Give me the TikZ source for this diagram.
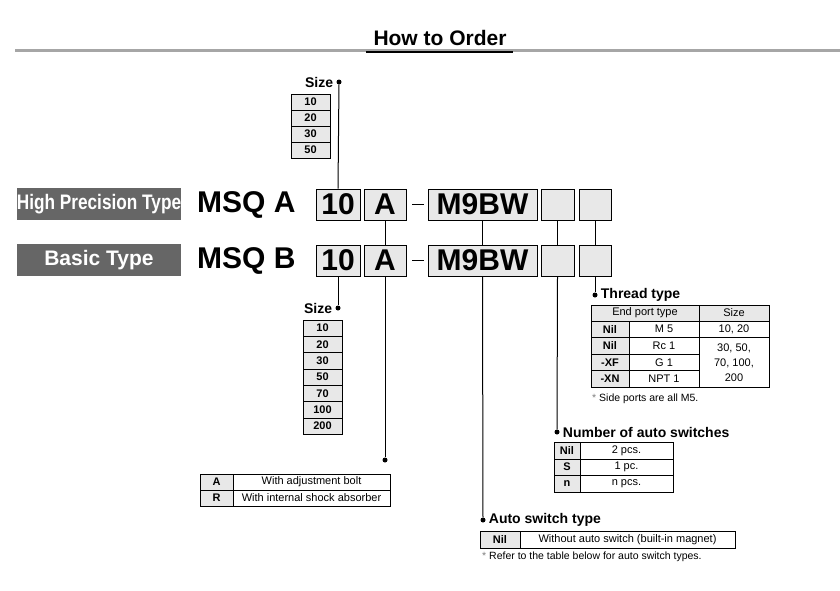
\documentclass[tikz,border=0pt]{standalone}
\usepackage{fontspec}
\usepackage{graphicx}
\setmainfont{Liberation Sans}
\usetikzlibrary{positioning}
\definecolor{labelGray}{HTML}{666666}
\definecolor{boxGray}{HTML}{E8E8E8}
\begin{document}
\begin{tikzpicture}[
    x=1pt, y=-1pt,
    typeLabel/.style={fill=labelGray, text=white, font=\bfseries\fontsize{21}{21}\selectfont,
        minimum width=164pt, minimum height=32pt, inner sep=0pt},
    codeBox/.style={draw=black, thick, fill=boxGray, minimum height=31pt, inner sep=0pt,
        font=\bfseries\fontsize{30}{30}\selectfont},
    cell/.style={draw=black, fill=white, inner sep=0pt, font=\fontsize{11}{11}\selectfont},
    grayCell/.style={cell, fill=boxGray, font=\bfseries\fontsize{11}{11}\selectfont},
    caption/.style={font=\bfseries\fontsize{14}{14}\selectfont, inner sep=0pt},
    note/.style={font=\fontsize{10.5}{10.5}\selectfont, inner sep=0pt, anchor=west},
    dotMark/.style={circle, fill=black, inner sep=0pt, minimum size=5pt},
    leader/.style={line width=1pt}
]
\useasboundingbox (0,0) rectangle (840,590);

% Title
\draw[gray!70, line width=3pt] (15,50) -- (840,50);
\node[font=\bfseries\fontsize{21}{21}\selectfont, fill=white, inner sep=1pt] (title) at (440,38) {How to Order};
\draw[line width=1.5pt] (366,52) -- (513,52);

% Type labels
\node[typeLabel] (hpType) at (99,204) {\scalebox{0.82}[1]{High Precision Type}};
\node[typeLabel] (basicType) at (99,260) {Basic Type};

% Part numbers
\foreach \row/\yy/\letter in {A/204.5/A, B/260.5/B}{
    \node[font=\bfseries\fontsize{30}{30}\selectfont, anchor=west, inner sep=0pt] (msq\row) at (197,\yy) {MSQ \letter};
    \node[codeBox, minimum width=44pt] (bore\row) at (338,\yy) {10};
    \node[codeBox, minimum width=42pt] (adj\row) at (385,\yy) {A};
    \draw[line width=1.5pt] (412,\yy) -- (424,\yy);
    \node[codeBox, minimum width=109pt] (sw\row) at (482.5,\yy) {M9BW};
    \node[codeBox, minimum width=33pt] (num\row) at (557.5,\yy) {\phantom{0}};
    \node[codeBox, minimum width=32pt] (thr\row) at (595,\yy) {\phantom{0}};
}
\foreach \n in {adj,sw,num,thr}
    \draw[leader] (\n A.south) -- (\n B.north);

% Size (upper)
\node[dotMark] (sizeDotA) at (339,82) {};
\node[caption, left=3pt of sizeDotA] (sizeA) {Size};
\draw[leader] (sizeDotA) -- (boreA.north);
\foreach \v [count=\i] in {10,20,30,50}
    \node[grayCell, minimum width=39pt, minimum height=16pt] (sizeA\i) at (310.5,86+16*\i) {\v};

% Size (lower)
\node[dotMark] (sizeDotB) at (338,308) {};
\node[caption, left=3pt of sizeDotB] (sizeB) {Size};
\draw[leader] (boreB.south) -- (sizeDotB);
\foreach \v [count=\i] in {10,20,30,50,70,100,200}
    \node[grayCell, minimum width=39pt, minimum height=16.3pt] (sizeB\i) at (322.5,320-8.15+16.3*\i) {\v};

% Adjustment
\node[dotMark] (adjDot) at (385,460) {};
\draw[leader] (adjB.south) -- (adjDot);
\node[grayCell, minimum width=33pt, minimum height=16pt] (adjA) at (216.5,482) {A};
\node[cell, minimum width=157pt, minimum height=16pt] (adjAText) at (311.5,482) {With adjustment bolt};
\node[grayCell, minimum width=33pt, minimum height=16pt] (adjR) at (216.5,498) {R};
\node[cell, minimum width=157pt, minimum height=16pt] (adjRText) at (311.5,498) {With internal shock absorber};

% Auto switch type
\node[dotMark] (swDot) at (483,520) {};
\draw[leader] (swB.south) -- (swDot);
\node[caption, right=3pt of swDot] (swCap) {Auto switch type};
\node[grayCell, minimum width=40pt, minimum height=17pt] (swNil) at (500,539.5) {Nil};
\node[cell, minimum width=215pt, minimum height=17pt] (swNilText) at (627.5,539.5) {Without auto switch (built-in magnet)};
\node[note] (swNote) at (482,557) {{\color{gray}*} Refer to the table below for auto switch types.};

% Number of auto switches
\node[dotMark] (numDot) at (557,432) {};
\draw[leader] (numB.south) -- (numDot);
\node[caption, right=3pt of numDot] (numCap) {Number of auto switches};
\foreach \c/\t [count=\i] in {Nil/2 pcs., S/1 pc., n/n pcs.}{
    \node[grayCell, minimum width=26pt, minimum height=16.7pt] (numC\i) at (567,442-8.35+16.7*\i) {\c};
    \node[cell, minimum width=93pt, minimum height=16.7pt] (numT\i) at (626.5,442-8.35+16.7*\i) {\t};
}

% Thread type
\node[dotMark] (thrDot) at (595,295) {};
\draw[leader] (thrB.south) -- (thrDot);
\node[caption, right=3pt of thrDot] (thrCap) {Thread type};
\node[cell, fill=boxGray, minimum width=108pt, minimum height=16pt] (thrHead) at (645,313) {End port type};
\node[cell, fill=boxGray, minimum width=70pt, minimum height=16pt] (thrSize) at (734,313) {Size};
\foreach \c/\t [count=\i] in {Nil/M 5, Nil/Rc 1/8, -XF/G 1/8, -XN/NPT 1/8}{
    \node[grayCell, minimum width=38pt, minimum height=16.5pt] (thrC\i) at (610,321-8.25+16.5*\i) {\c};
    \node[cell, minimum width=70pt, minimum height=16.5pt] (thrT\i) at (664,321-8.25+16.5*\i) {\t};
}
\node[cell, minimum width=70pt, minimum height=16.5pt] (thrS1) at (734,329.25) {10, 20};
\node[cell, minimum width=70pt, minimum height=49.5pt, align=center, font=\fontsize{11}{15}\selectfont] (thrS2) at (734,362.25) {30, 50,\\70, 100,\\200};
\node[note] (thrNote) at (592,399) {{\color{gray}*} Side ports are all M5.};
\end{tikzpicture}
\end{document}
